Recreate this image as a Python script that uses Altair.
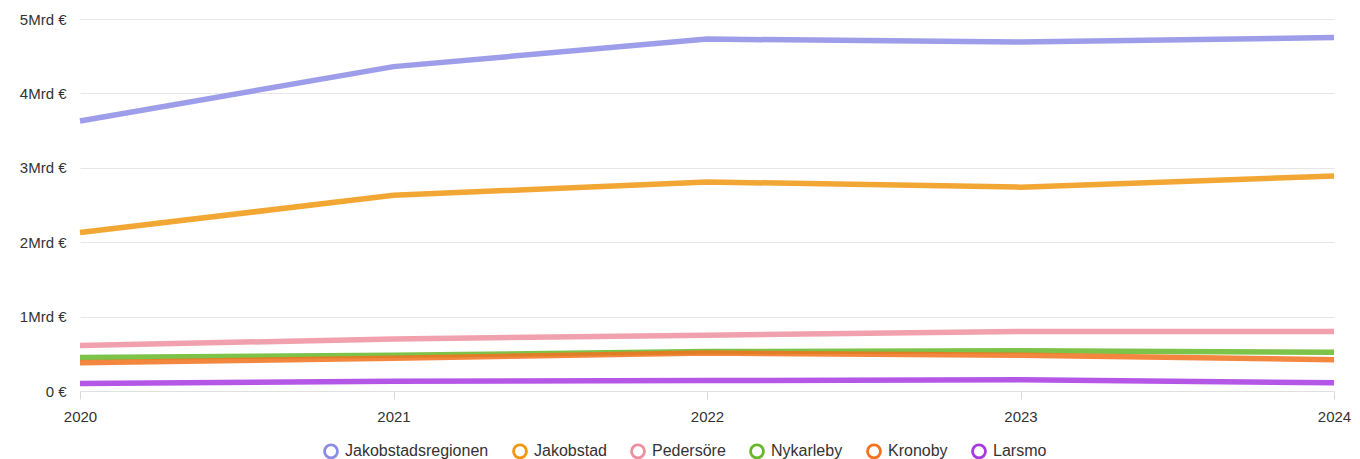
import altair as alt
import pandas as pd

years = ["2020", "2021", "2022", "2023", "2024"]
regions = ["Jakobstadsregionen", "Jakobstad", "Pedersöre", "Nykarleby", "Kronoby", "Larsmo"]
colors = ["#8c8ce6", "#f0960f", "#ee8f9f", "#66b82a", "#f2721e", "#a839e2"]

# values in billions of euro (Mrd €)
jakobstadsregionen = [3.63, 4.36, 4.73, 4.69, 4.75]
jakobstad = [2.13, 2.63, 2.81, 2.74, 2.89]
pedersore = [0.61, 0.70, 0.75, 0.80, 0.80]
nykarleby = [0.45, 0.48, 0.53, 0.54, 0.52]
kronoby = [0.38, 0.44, 0.51, 0.48, 0.42]
larsmo = [0.10, 0.13, 0.14, 0.15, 0.11]

series = [jakobstadsregionen, jakobstad, pedersore, nykarleby, kronoby, larsmo]

rows = []
for i, (name, vals) in enumerate(zip(regions, series)):
    for y, v in zip(years, vals):
        rows.append({"Region": name, "order": i, "Year": y, "Value": v})
df = pd.DataFrame(rows)

FONT = "Liberation Sans"

chart = alt.Chart(df).mark_line(
    strokeWidth=5.5, interpolate="linear", strokeOpacity=0.85
).encode(
    x=alt.X("Year:O", title=None, scale=alt.Scale(padding=0),
            axis=alt.Axis(labelAngle=0, labelFontSize=15, labelColor="#333333",
                          labelPadding=10, tickSize=8, tickColor="#d8d8d8",
                          domainColor="#e0e0e0", labelFont=FONT, grid=False)),
    y=alt.Y("Value:Q", title=None, scale=alt.Scale(domain=[0, 5], nice=False),
            axis=alt.Axis(values=[0, 1, 2, 3, 4, 5], labelFontSize=15,
                          labelColor="#333333", labelFont=FONT, ticks=False,
                          domain=False, labelPadding=14, gridColor="#e6e6e6",
                          labelExpr="datum.value == 0 ? '0 €' : datum.value + 'Mrd €'")),
    color=alt.Color("Region:N", sort=regions,
                    scale=alt.Scale(domain=regions, range=colors),
                    legend=alt.Legend(
                        title="", orient="none", direction="horizontal",
                        legendX=243, legendY=424,
                        symbolType="circle", symbolSize=8,
                        symbolStrokeWidth=13, symbolOpacity=1,
                        labelFontSize=16, labelFont=FONT, labelColor="#333333",
                        labelOffset=6, columnPadding=3)),
    order=alt.Order("Year:O"),
    detail="Region:N",
).properties(
    width=1254, height=372,
    background="white",
    autosize=alt.AutoSizeParams(type="none"),
    padding={"left": 72, "top": 11, "right": 18, "bottom": 80},
).configure_view(stroke=None)

chart.save("out.html", embed_options={"renderer": "svg", "actions": False})
